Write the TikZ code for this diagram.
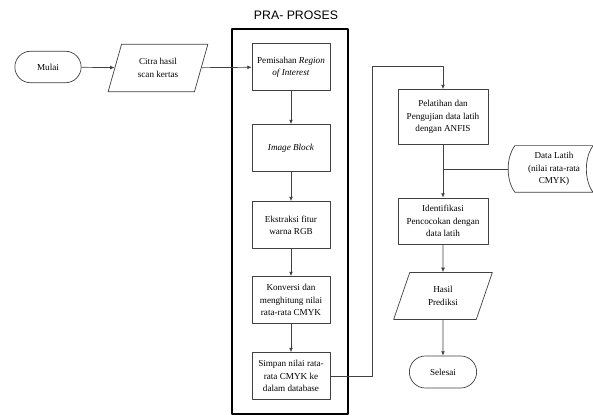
\documentclass[tikz,border=0pt]{standalone}
\usepackage{fontspec}
\setmainfont{Liberation Serif}
\newfontfamily\arialfont{Liberation Sans}
\usetikzlibrary{shapes.geometric,shapes.misc,arrows.meta,calc}

\tikzset{
  proses/.style={draw=black!75, thin, rectangle, minimum width=1.56cm, minimum height=0.94cm,
    align=center, inner sep=1pt, font=\fontsize{5.2}{7}\selectfont},
  terminal/.style={draw=black!75, thin, rounded rectangle, minimum width=1.56cm, minimum height=0.63cm,
    font=\fontsize{5.2}{7}\selectfont},
  masukan/.style={draw=black!75, thin, trapezium, trapezium left angle=70, trapezium right angle=110,
    trapezium stretches=true, minimum width=2.0cm, minimum height=0.95cm, align=center,
    inner sep=1pt, font=\fontsize{5.2}{7}\selectfont},
  alur/.style={draw=black!75, thin, -{Latex[length=2.5pt,width=2.2pt]}},
  garis/.style={draw=black!75, thin}
}

\begin{document}
\begin{tikzpicture}[x=0.02cm, y=-0.02cm, line join=round]

	\useasboundingbox (0,0) rectangle (593,418);

	%====================
	% 1) Mulai dan citra masukan
	%====================
	\node[terminal] (mulai) at (48,67) {Mulai};
	\node[masukan]  (citra) at (158,68) {Citra hasil\\ scan kertas};

	%====================
	% 2) Blok pra-proses (kotak tebal)
	%====================
	\node[font=\arialfont\fontsize{7}{8}\selectfont] (judul) at (296,15) {PRA- PROSES};
	\coordinate (praA) at (232,29);
	\coordinate (praB) at (348,414);
	\draw[line width=1.7pt] (praA) rectangle (praB);

	\node[proses] (roi)     at (291,67)  {Pemisahan \textit{Region}\\ \textit{of Interest}};
	\node[proses] (blok)    at (291,148) {\textit{Image Block}};
	\node[proses] (rgb)     at (291,225) {Ekstraksi fitur\\ warna RGB};
	\node[proses] (cmyk)    at (291,300) {Konversi dan\\ menghitung nilai\\ rata-rata CMYK};
	\node[proses] (simpan)  at (291,376) {Simpan nilai rata-\\ rata CMYK ke\\ dalam database};

	%====================
	% 3) Pelatihan dan identifikasi
	%====================
	\node[proses, minimum width=1.8cm, minimum height=1.1cm] (latihan) at (443,117)
		{Pelatihan dan\\ Pengujian data latih\\ dengan ANFIS};
	\node[proses, minimum width=1.8cm, minimum height=0.92cm] (identifikasi) at (443,221)
		{Identifikasi\\ Pencocokan dengan\\ data latih};
	\node[masukan, minimum width=1.98cm, minimum height=0.94cm] (hasil) at (443,296) {Hasil\\ Prediksi};
	\node[terminal, minimum width=1.58cm, minimum height=0.64cm] (selesai) at (443,372) {Selesai};

	% data latih (simbol stored data)
	\node[minimum width=1.55cm, minimum height=0.92cm, align=center, inner sep=1pt,
		font=\fontsize{5.2}{7}\selectfont] (datalatih) at (554,169)
		{Data Latih\\ (nilai rata-rata\\ CMYK)};
	\draw[garis] (datalatih.north west) -- (datalatih.north east)
		.. controls +(-9,12) and +(-9,-12) .. (datalatih.south east)
		-- (datalatih.south west)
		.. controls +(-9,-12) and +(-9,12) .. (datalatih.north west);

	%====================
	% 4) Alur
	%====================
	\draw[alur] (mulai) -- (citra);
	\draw[alur] (citra) -- (roi);
	\draw[alur] (roi) -- (blok);
	\draw[alur] (blok) -- (rgb);
	\draw[alur] (rgb) -- (cmyk);
	\draw[alur] (cmyk) -- (simpan);

	\coordinate (belok) at (372,66);
	\draw[alur] (simpan.east) -| (belok) -| (latihan.north);

	\draw[alur] (latihan) -- (identifikasi);
	\coordinate (gabung) at (latihan.south |- datalatih.west);
	\draw[garis] ($(datalatih.west)+(-7,0)$) -- (gabung);
	\draw[alur] (identifikasi) -- (hasil);
	\draw[alur] (hasil) -- (selesai);

\end{tikzpicture}
\end{document}
